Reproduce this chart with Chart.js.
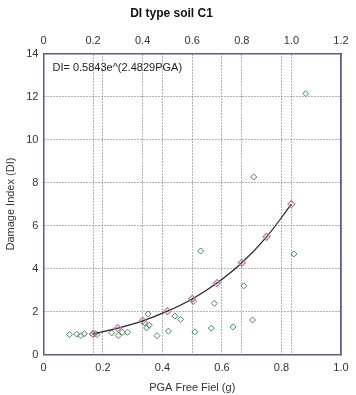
<!DOCTYPE html>
<html>
<head>
<meta charset="utf-8">
<script src="https://cdn.jsdelivr.net/npm/chart.js@4.4.1/dist/chart.umd.min.js"></script>
<style>
  html, body { margin: 0; padding: 0; background: #fff; }
</style>
</head>
<body>
<canvas id="myChart" width="356" height="395"></canvas>
<script>
// observed points (PGA on top axis, DI)
const pgaObs = [0.105, 0.134, 0.151, 0.165, 0.200, 0.208, 0.216, 0.275, 0.302, 0.318,
                0.339, 0.422, 0.408, 0.416, 0.427, 0.458, 0.504, 0.530, 0.553, 0.604,
                0.611, 0.634, 0.677, 0.689, 0.765, 0.808, 0.843, 0.848, 1.010, 1.058];
const diObs  = [0.93, 0.95, 0.88, 0.97, 0.95, 0.98, 0.93, 1.01, 0.89, 1.04,
                1.04, 1.89, 1.48, 1.24, 1.37, 0.88, 1.09, 1.79, 1.64, 2.47,
                1.06, 4.82, 1.23, 2.38, 1.29, 3.20, 1.61, 8.26, 4.68, 12.14];

// fitted curve points
const pgaFit = [0.2, 0.3, 0.4, 0.5, 0.6, 0.7, 0.8, 0.9, 1.0];
const diFit  = [0.96, 1.23, 1.57, 2.02, 2.59, 3.33, 4.27, 5.48, 7.0];

const equationText = 'DI= 0.5843e^(2.4829PGA)';

const frameColor = '#5c5a8c';
const gridColor = '#666';
const textColor = '#333';
const fontFamily = "'Liberation Sans', Arial, sans-serif";

const toPoints = (xs, ys) => xs.map((x, i) => ({ x: x, y: ys[i] }));

const equationLabel = {
  id: 'equationLabel',
  afterDraw(chart) {
    const { ctx, chartArea } = chart;
    ctx.save();
    ctx.font = '11px ' + fontFamily;
    ctx.fillStyle = '#222';
    ctx.textBaseline = 'middle';
    ctx.fillText(equationText, chartArea.left + 9, chartArea.top + 14);
    ctx.restore();
  }
};

const data = {
  datasets: [
    {
      label: 'fit',
      data: toPoints(pgaFit, diFit),
      xAxisID: 'x2',
      showLine: true,
      tension: 0.4,
      borderColor: '#2a1f2e',
      borderWidth: 1.2,
      pointStyle: 'rectRot',
      pointRadius: 3.5,
      pointBorderColor: '#c27aa0',
      pointBackgroundColor: 'rgba(0,0,0,0)',
      pointBorderWidth: 1.2,
      order: 1
    },
    {
      label: 'data',
      data: toPoints(pgaObs, diObs),
      xAxisID: 'x2',
      showLine: false,
      pointStyle: 'rectRot',
      pointRadius: 3,
      borderColor: '#3f8a5a',
      backgroundColor: 'rgba(0,0,0,0)',
      pointBorderWidth: 1,
      order: 2
    }
  ]
};

const dotted = { dash: [1, 2], color: frameColor, width: 1.5 };

const config = {
  type: 'scatter',
  data: data,
  options: {
    responsive: false,
    animation: false,
    layout: { padding: { left: 2, right: 15, top: 4, bottom: 0 } },
    plugins: {
      legend: { display: false },
      tooltip: { enabled: false },
      title: {
        display: true,
        text: 'DI type soil C1',
        color: '#111',
        font: { family: fontFamily, size: 12, weight: 'bold' },
        padding: { top: 2, bottom: 8 }
      }
    },
    scales: {
      x: {
        type: 'linear',
        position: 'bottom',
        min: 0, max: 1,
        ticks: { stepSize: 0.2, color: textColor, font: { family: fontFamily, size: 11 }, padding: 7 },
        grid: { color: gridColor, drawTicks: false },
        border: dotted,
        title: { display: true, text: 'PGA Free Fiel (g)', color: textColor, font: { family: fontFamily, size: 11 }, padding: { top: 0, bottom: 0 } }
      },
      x2: {
        type: 'linear',
        position: 'top',
        min: 0, max: 1.2,
        ticks: { stepSize: 0.2, color: textColor, font: { family: fontFamily, size: 11 }, padding: 6 },
        grid: { color: gridColor, drawTicks: false },
        border: dotted
      },
      y: {
        type: 'linear',
        position: 'left',
        min: 0, max: 14,
        ticks: { stepSize: 2, color: textColor, font: { family: fontFamily, size: 11 }, padding: 5 },
        grid: { color: gridColor, drawTicks: false },
        border: dotted,
        title: { display: true, text: 'Damage Index (DI)', color: textColor, font: { family: fontFamily, size: 11 }, padding: { top: 2, bottom: 4 } }
      },
      y2: {
        type: 'linear',
        position: 'right',
        min: 0, max: 14,
        ticks: { display: false },
        grid: { display: false, drawTicks: false },
        border: { color: frameColor, width: 1.5 }
      }
    }
  },
  plugins: [equationLabel]
};

const myChart = new Chart(document.getElementById('myChart'), config);
</script>
</body>
</html>
